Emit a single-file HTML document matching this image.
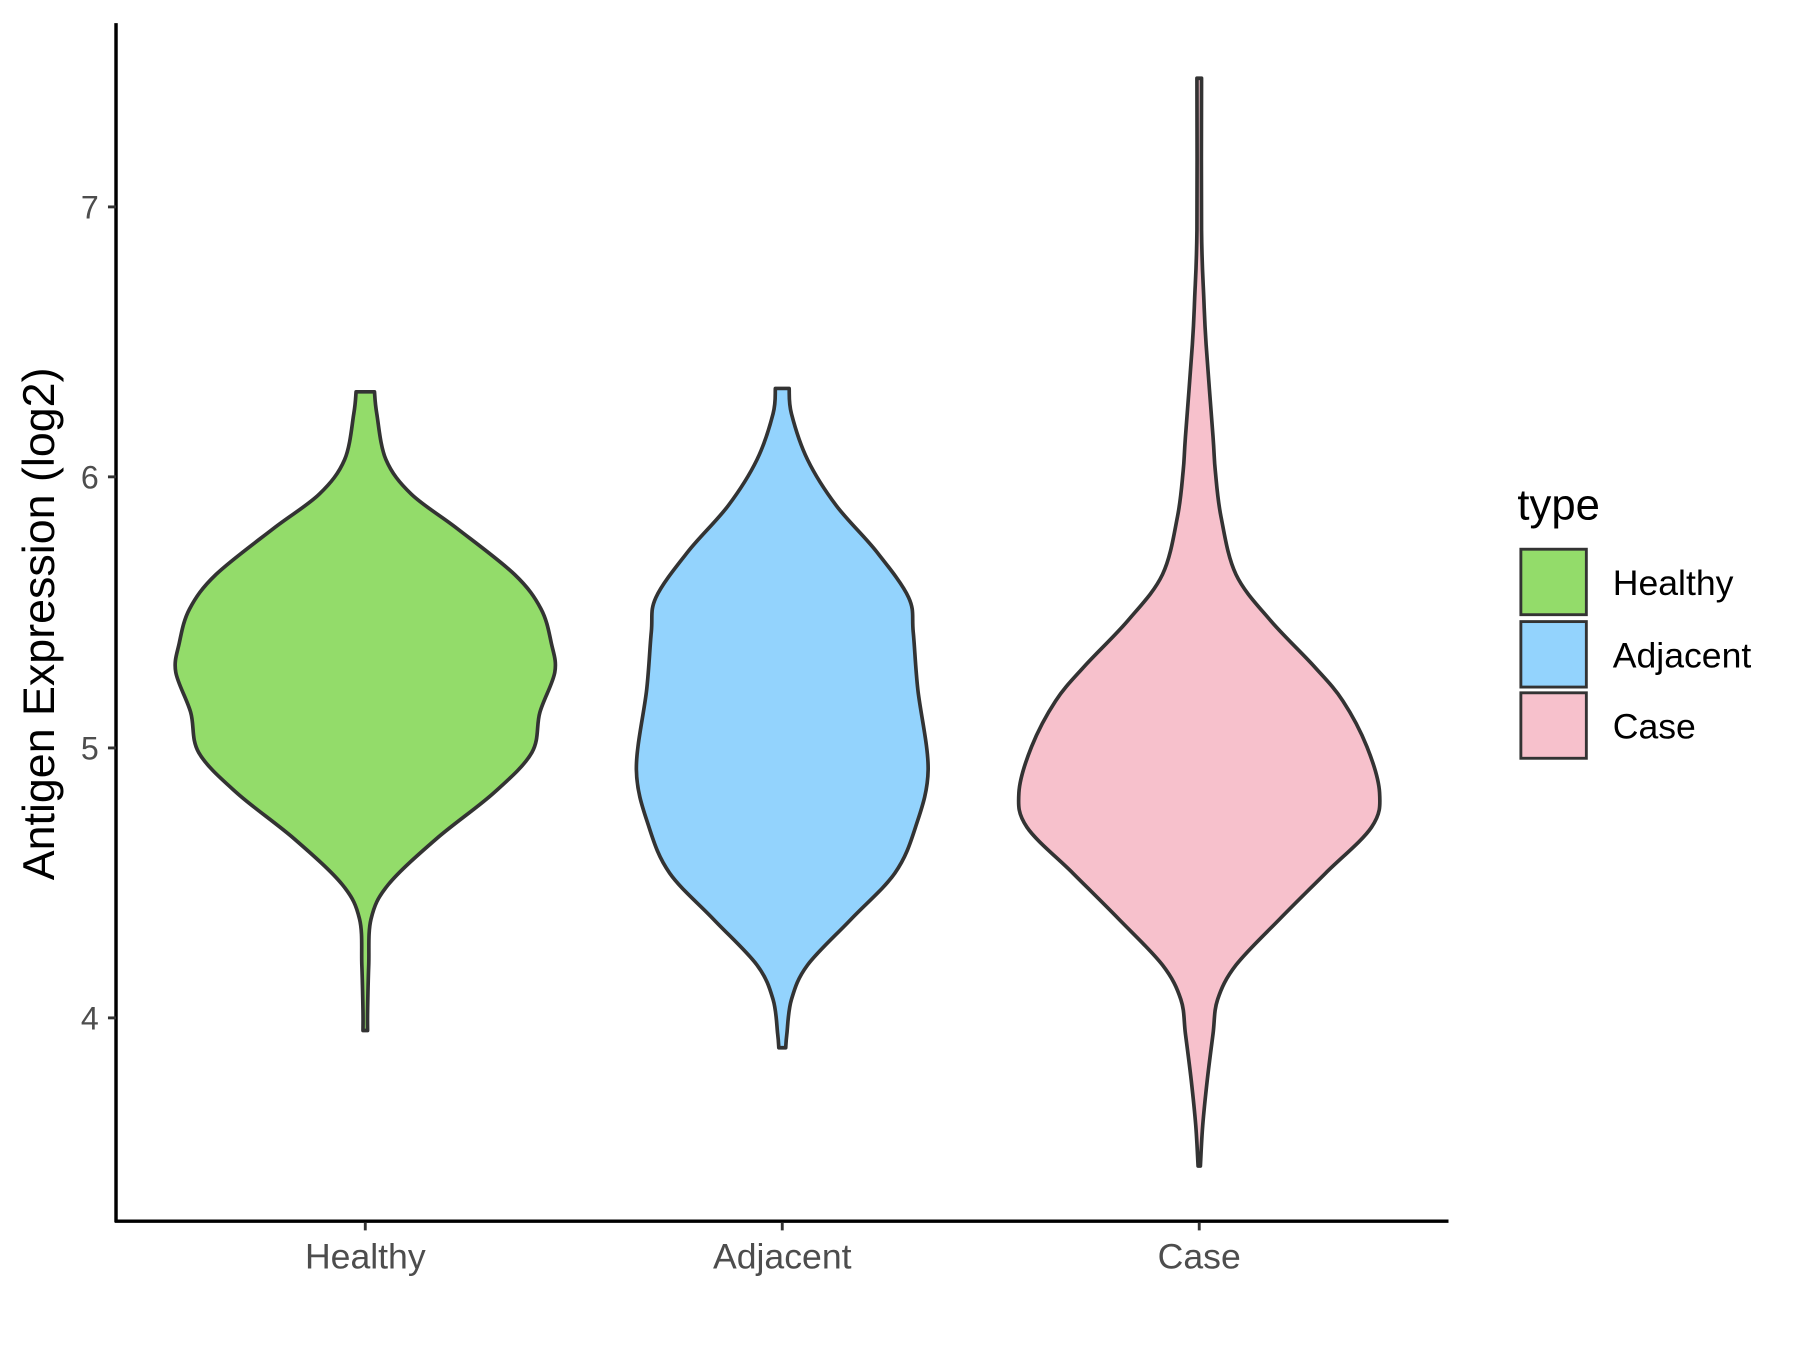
<!DOCTYPE html>
<html><head><meta charset="utf-8"><style>html,body{margin:0;padding:0;background:#fff}svg{display:block}</style></head>
<body>
<svg id="s" width="1800" height="1350" viewBox="0 0 1567 1175" xmlns="http://www.w3.org/2000/svg" font-family="Liberation Sans, Arial, sans-serif">
<rect width="1567" height="1175" fill="#fff"/>
<g id="v"></g>
<line x1="101" y1="20" x2="101" y2="1064" stroke="#000" stroke-width="3"/>
<line x1="100" y1="1063" x2="1261" y2="1063" stroke="#000" stroke-width="3"/>
<g stroke="#333" stroke-width="2.5">
<line x1="94" y1="180" x2="101" y2="180"/><line x1="94" y1="415" x2="101" y2="415"/>
<line x1="94" y1="651" x2="101" y2="651"/><line x1="94" y1="886" x2="101" y2="886"/>
<line x1="318" y1="1064" x2="318" y2="1071"/><line x1="681" y1="1064" x2="681" y2="1071"/><line x1="1044" y1="1064" x2="1044" y2="1071"/>
</g>
<g fill="#4d4d4d" font-size="28" text-anchor="end">
<text x="86" y="190">7</text><text x="86" y="425">6</text><text x="86" y="661">5</text><text x="86" y="896">4</text>
</g>
<g fill="#4d4d4d" font-size="31" text-anchor="middle">
<text x="318" y="1104">Healthy</text><text x="681" y="1104">Adjacent</text><text x="1044" y="1104">Case</text>
</g>
<text transform="translate(47,543) rotate(-90)" font-size="39" text-anchor="middle" fill="#000">Antigen Expression (log2)</text>
<text x="1321" y="452" font-size="38" fill="#000">type</text>
<g stroke="#333" stroke-width="2.5">
<rect x="1324" y="478" width="57" height="57" fill="#93dc6a"/>
<rect x="1324" y="541" width="57" height="57" fill="#93d3fd"/>
<rect x="1324" y="603" width="57" height="57" fill="#f7c1cc"/>
</g>
<g font-size="31" fill="#000">
<text x="1404" y="518">Healthy</text><text x="1404" y="581">Adjacent</text><text x="1404" y="643">Case</text>
</g>
</svg>
<script>
function cr(pts){let d="M"+pts[0][0]+","+pts[0][1];for(let i=0;i<pts.length-1;i++){const p0=pts[Math.max(i-1,0)],p1=pts[i],p2=pts[i+1],p3=pts[Math.min(i+2,pts.length-1)];
const c1=[p1[0]+(p2[0]-p0[0])/6,p1[1]+(p2[1]-p0[1])/6],c2=[p2[0]-(p3[0]-p1[0])/6,p2[1]-(p3[1]-p1[1])/6];d+="C"+c1+" "+c2+" "+p2;}return d;}
function violin(cx,prof,fill){const L=prof.map(p=>[cx-p[1],p[0]]);const R=prof.slice().reverse().map(p=>[cx+p[1],p[0]]);
const d=cr(L)+"L"+R[0]+cr(R).replace(/^M[^C]*/,"")+"Z";
return '<path d="'+d+'" fill="'+fill+'" stroke="#333" stroke-width="3.2" stroke-linejoin="round"/>';}
const H=[[341,8],[360,10],[400,18],[430,40],[460,80],[500,130],[530,153],[560,162],[585,165],[620,152],[655,145],[690,112],[730,62],[770,20],[800,5],[840,3],[880,2],[897,2]];
const A=[[338,6],[360,8],[400,22],[440,47],[480,82],[520,110],[550,114],[600,118],[670,127],[720,116],[760,98],[800,60],[840,22],[870,8],[900,4],[912,3]];
const C=[[68,2],[200,2],[260,4],[300,6],[380,12],[410,14],[450,19],[500,32],[540,62],[580,100],[610,125],[650,146],[690,157],[720,150],[760,110],[800,70],[840,32],[870,16],[900,12],[940,7],[980,3],[1015,1]];
document.getElementById("v").innerHTML=violin(318,H,"#93dc6a")+violin(681,A,"#93d3fd")+violin(1044,C,"#f7c1cc");
</script>
</body></html>
